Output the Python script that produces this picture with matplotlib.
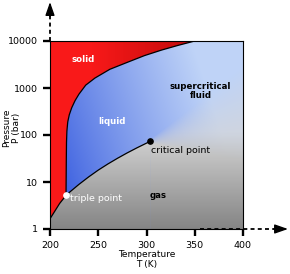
import numpy as np
import matplotlib
matplotlib.use("Agg")
import matplotlib.pyplot as plt
from matplotlib.image import AxesImage
from matplotlib.patches import Polygon

# ---- data (CO2 phase diagram) ----
sub_T = [200.0, 205.0, 210.0, 216.6]
sub_P = [1.65, 2.4, 3.5, 5.18]
melt_T = [216.6, 216.9, 217.1, 217.5, 218.4, 220.0, 222.5, 226.0, 230.0, 237.0, 246.6, 262.0, 280.8, 298.0, 316.0, 333.0, 350.0]
melt_P = [5.18, 30.0, 70.0, 120.0, 190.0, 270.0, 380.0, 540.0, 740.0, 1150.0, 1630.0, 2500.0, 3560.0, 4900.0, 6450.0, 8100.0, 10000.0]
vap_T = [216.6, 220.0, 230.0, 240.0, 250.0, 260.0, 270.0, 280.0, 290.0, 300.0, 304.1]
vap_P = [5.18, 6.0, 8.9, 12.8, 17.9, 24.2, 32.0, 41.6, 53.2, 67.1, 73.8]
triple = (216.6, 5.18)
critical = (304.1, 73.8)
x_ticks = [200, 250, 300, 350, 400]
y_ticks = [1, 10, 100, 1000, 10000]
y_ticklabels = ["1", "10", "100", "1000", "10000"]
region_labels = ["solid", "liquid", "supercritical\nfluid", "gas"]
region_pos = [(234, 3950), (264, 192), (356, 863), (303.6, 5.06)]

T0, T1 = 200, 400
P0, P1 = 1, 10000

fig = plt.figure(figsize=(2.9, 2.74), dpi=100)
ax = fig.add_axes([50/290, 1-229/274, 193/290, 188/274])
ax.set_yscale('log')
ax.set_xlim(T0, T1)
ax.set_ylim(P0, P1)
ax.set_autoscale_on(False)

# ---- colour fields in axes fraction coordinates ----
n = 500
u = np.linspace(0, 1, n)
v = np.linspace(0, 1, n)
U, V = np.meshgrid(u, v)

# gas: vertical gray gradient
g = np.clip(0.52 + 0.62*V, 0, 0.84)
gas = np.dstack([g, g, g, np.ones_like(g)])

# fluid: blue gradient
t = np.clip(1.1*(U-0.05) + 0.35*(V-0.3), 0, 1) ** 0.85
dark = np.array([0.24, 0.38, 0.88])
light = np.array([0.75, 0.83, 0.97])
blue = dark[None, None, :] + (light-dark)[None, None, :]*t[..., None]
uc = (critical[0]-T0)/(T1-T0)
vc = np.log10(critical[1])/4
du = np.clip(U-uc, 0, None)
L = vc + 0.3*du
width = 0.02 + 1.0*du
w = np.clip((V-L)/width + 0.5, 0, 1)
w = np.where(U < uc, 1.0, w)
fluid = np.dstack([blue, w])

# solid: red gradient
tr = np.clip((U-0.2)/0.5, 0, 1)
r0 = np.array([0.98, 0.10, 0.10])
r1 = np.array([0.78, 0.05, 0.05])
red = r0[None, None, :] + (r1-r0)[None, None, :]*tr[..., None]
solid = np.dstack([red, np.ones_like(tr)])

def add_field(rgba, clip_poly=None, z=0):
    im = AxesImage(ax, interpolation='bilinear', origin='lower',
                   extent=(0, 1, 0, 1), transform=ax.transAxes)
    im.set_data(rgba)
    im.set_zorder(z)
    ax.add_image(im)
    if clip_poly is not None:
        im.set_clip_path(clip_poly)
    return im

add_field(gas, None, 0)

fluid_pts = list(zip(vap_T, vap_P)) + [(critical[0], P0), (T1, P0), (T1, P1)] + list(zip(melt_T, melt_P))[::-1]
fluid_poly = Polygon(fluid_pts, closed=True, transform=ax.transData)
add_field(fluid, fluid_poly, 0.5)

solid_pts = list(zip(sub_T, sub_P)) + list(zip(melt_T, melt_P))[1:] + [(T0, P1)]
solid_poly = Polygon(solid_pts, closed=True, transform=ax.transData)
add_field(solid, solid_poly, 0.6)

# boundaries
for xs, ys in [(sub_T, sub_P), (melt_T, melt_P), (vap_T, vap_P)]:
    ax.plot(xs, ys, color='black', lw=0.9, zorder=3, solid_capstyle='round', solid_joinstyle='round')

ax.plot([critical[0]], [critical[1]], 'o', color='black', ms=3.8, zorder=4)
ax.plot([triple[0]], [triple[1]], 'o', color='white', ms=3.8, zorder=4)

# labels
for lab, (x, y) in zip(region_labels, region_pos):
    if lab == 'gas':
        ax.text(x, y, lab, color='black', fontsize=6.2, fontweight='bold', ha='left', va='center', zorder=5)
    elif lab == 'supercritical\nfluid':
        ax.text(x, y, lab, color='black', fontsize=6.2, fontweight='bold', ha='center', va='center',
                linespacing=1.0, zorder=5)
    else:
        ax.text(x, y, lab, color='white', fontsize=6.2, fontweight='bold', ha='center', va='center', zorder=5)
ax.text(221.0, 4.37, 'triple point', color='white', fontsize=6.8, ha='left', va='center', zorder=5)
ax.text(304.8, 45.7, 'critical point', color='black', fontsize=6.8, ha='left', va='center', zorder=5)

# axes styling
ax.set_xticks(x_ticks)
ax.set_xticklabels([str(x) for x in x_ticks])
ax.set_yticks(y_ticks)
ax.set_yticklabels(y_ticklabels)
ax.minorticks_off()
ax.tick_params(direction='out', length=5, width=1.7, labelsize=6.8, pad=3.5, colors='black')
for s in ax.spines.values():
    s.set_linewidth(0.8)
    s.set_color('black')
    s.set_zorder(6)

ax.set_xlabel('Temperature\nT (K)', fontsize=6.5, linespacing=1.15)
ax.xaxis.set_label_coords(0.5, -0.11)
ax.set_ylabel('Pressure\nP (bar)', fontsize=6.5, linespacing=1.15)
ax.yaxis.set_label_coords(-0.15, 0.54)

# dashed arrows
dash = (0, (2.2, 1.8))
ax.plot([0, 0], [1.0, 1.15], transform=ax.transAxes, clip_on=False, color='black', lw=1.3, linestyle=dash, zorder=7)
ax.annotate('', xy=(0, 1.207), xytext=(0, 1.13), xycoords='axes fraction', textcoords='axes fraction',
            annotation_clip=False,
            arrowprops=dict(arrowstyle='-|>,head_length=0.8,head_width=0.28', color='black', lw=1.0,
                            shrinkA=0, shrinkB=0))
ax.plot([0.777, 1.18], [0, 0], transform=ax.transAxes, clip_on=False, color='black', lw=1.3, linestyle=dash, zorder=7)
ax.annotate('', xy=(1.233, 0), xytext=(1.16, 0), xycoords='axes fraction', textcoords='axes fraction',
            annotation_clip=False,
            arrowprops=dict(arrowstyle='-|>,head_length=0.8,head_width=0.28', color='black', lw=1.0,
                            shrinkA=0, shrinkB=0))

fig.savefig('out.png', dpi=100)
